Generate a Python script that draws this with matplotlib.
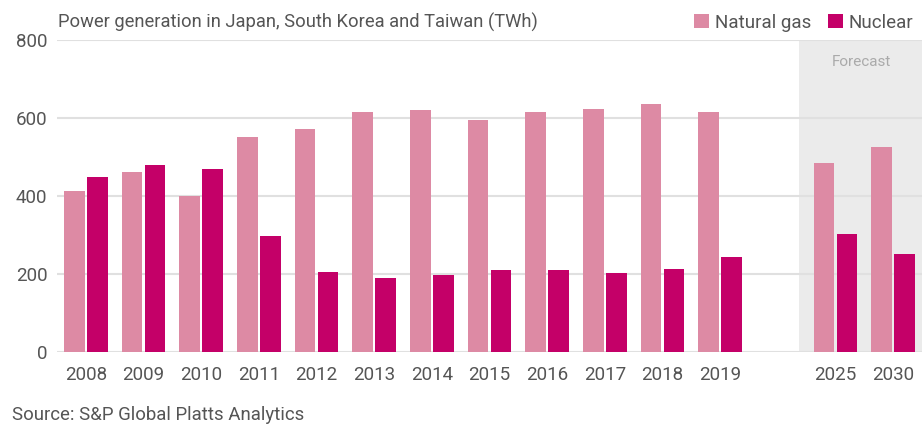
import matplotlib
matplotlib.use("Agg")
import matplotlib.pyplot as plt
import numpy as np

years = ["2008", "2009", "2010", "2011", "2012", "2013", "2014", "2015",
         "2016", "2017", "2018", "2019", "2025", "2030"]
positions = [0, 1, 2, 3, 4, 5, 6, 7, 8, 9, 10, 11, 13, 14]
natural_gas = [413, 462, 400, 551, 572, 615, 620, 595, 615, 623, 636, 615, 485, 526]
nuclear = [449, 479, 469, 297, 205, 190, 197, 210, 210, 203, 213, 244, 302, 251]
y_ticks = [0, 200, 400, 600, 800]

GAS = "#DD8AA4"
NUC = "#C40068"
TXT = "#555555"

plt.rcParams['font.family'] = ['Roboto', 'DejaVu Sans']

fig = plt.figure(figsize=(9.24, 4.24), dpi=100)
ax = fig.add_axes([57/924, 1-352/424, (922-57)/924, (352-40)/424])

ax.set_xlim(-0.5, 14.5)
ax.set_ylim(0, 800)

ax.axvspan(12.36, 14.5, color="#EBEBEB", zorder=0, lw=0)
ax.text(13.45, 744, "Forecast", ha="center", va="center", color="#AAAAAA", fontsize=11)

for y in y_ticks:
    ax.axhline(y, color="#E0E0E0", lw=1.5, zorder=1)

pos = np.array(positions, dtype=float)
w = 0.362
ax.bar(pos - 0.2, natural_gas, width=w, color=GAS, zorder=2, label="Natural gas")
ax.bar(pos + 0.2, nuclear, width=w, color=NUC, zorder=2, label="Nuclear")

ax.set_xticks(positions)
ax.set_xticklabels(years)
ax.set_yticks(y_ticks)
ax.tick_params(axis="both", length=0, labelsize=13.5, colors=TXT)
ax.tick_params(axis="y", pad=7)
ax.tick_params(axis="x", pad=10)
for s in ax.spines.values():
    s.set_visible(False)

fig.text(58/924, 1-22/424, "Power generation in Japan, South Korea and Taiwan (TWh)",
         ha="left", va="center", color=TXT, fontsize=13.2)
fig.text(12/924, 1-415/424, "Source: S&P Global Platts Analytics",
         ha="left", va="center", color=TXT, fontsize=13.4)

leg = fig.legend(loc="upper right", bbox_to_anchor=(1.0, 1.0), ncol=2, frameon=False,
                 fontsize=13.5, handlelength=0.8, handleheight=0.8, handletextpad=0.3,
                 columnspacing=0.9, borderaxespad=0.0,
                 bbox_transform=fig.transFigure)
leg.set_bbox_to_anchor((921/924, 1-6/424), transform=fig.transFigure)
for t in leg.get_texts():
    t.set_color(TXT)

fig.savefig("out.png", dpi=100)
